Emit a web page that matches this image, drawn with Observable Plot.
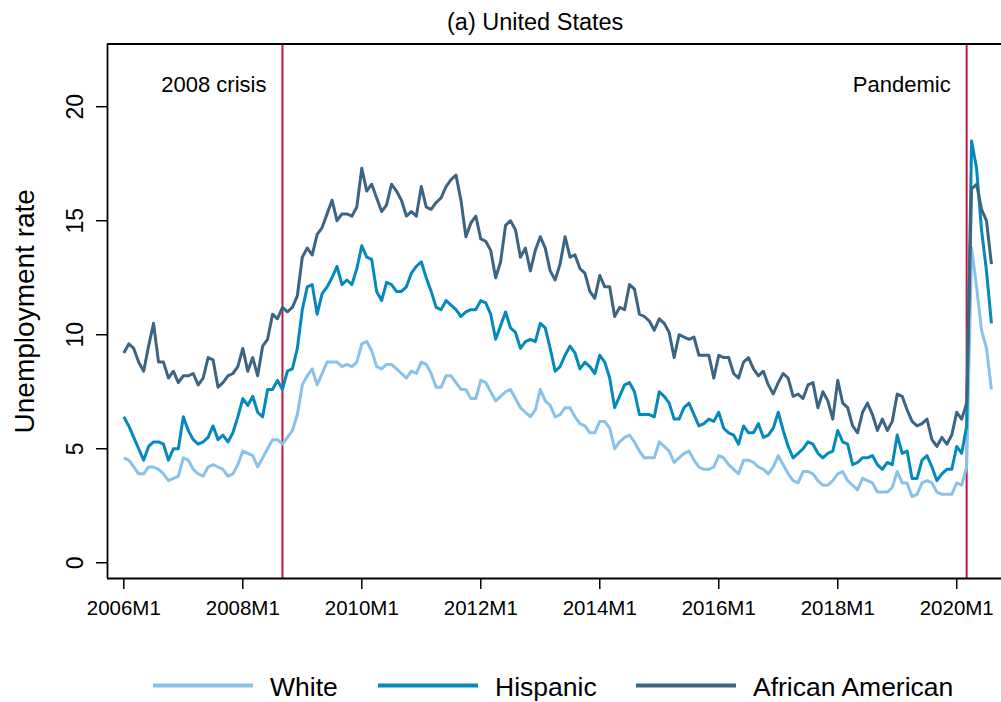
<!DOCTYPE html>
<html><head><meta charset="utf-8">
<script src="https://cdn.jsdelivr.net/npm/d3@7"></script>
<script src="https://cdn.jsdelivr.net/npm/@observablehq/plot@0.6"></script>
<style>
body{margin:0;background:#fff;font-family:"Liberation Sans",Arial,sans-serif;}
#wrap{position:relative;width:1001px;height:702px;overflow:hidden;background:#fff;}
#chart{position:absolute;left:0;top:0;}
#overlay{position:absolute;left:0;top:0;pointer-events:none;}
</style></head><body>
<div id="wrap"><div id="chart"></div><svg id="overlay" width="1001" height="702"></svg></div>
<script>
// ---- data (monthly, starting 2006M1) ----
const startYear = 2006;
const white = [
4.6,4.5,4.2,3.9,3.9,4.2,4.2,4.1,3.9,3.6,3.7,3.8,
4.6,4.5,4.1,3.9,3.8,4.2,4.3,4.2,4.1,3.8,3.9,4.3,
4.9,4.8,4.7,4.2,4.6,5.0,5.4,5.4,5.2,5.5,5.8,6.5,
7.8,8.2,8.5,7.8,8.3,8.8,8.8,8.8,8.6,8.7,8.6,8.8,
9.6,9.7,9.3,8.6,8.5,8.7,8.7,8.5,8.3,8.1,8.4,8.3,
8.8,8.7,8.3,7.7,7.7,8.2,8.2,7.9,7.6,7.6,7.2,7.2,
8.0,7.9,7.5,7.1,7.3,7.5,7.6,7.2,6.8,6.6,6.4,6.7,
7.6,7.1,6.9,6.4,6.5,6.8,6.8,6.4,6.1,6.0,5.7,5.7,
6.2,6.2,5.9,5.0,5.3,5.5,5.6,5.3,4.9,4.6,4.6,4.6,
5.3,5.1,4.9,4.4,4.6,4.8,4.9,4.5,4.2,4.1,4.1,4.2,
4.7,4.6,4.3,4.1,3.9,4.5,4.5,4.4,4.2,4.1,3.9,4.2,
4.7,4.3,3.9,3.6,3.5,4.0,4.0,3.9,3.6,3.4,3.4,3.6,
3.9,4.0,3.6,3.4,3.2,3.7,3.6,3.5,3.1,3.1,3.1,3.3,
4.0,3.5,3.5,2.9,3.0,3.5,3.6,3.5,3.1,3.0,3.0,3.0,
3.5,3.4,4.2,13.8,12.1,10.2,9.4,7.6];
const hispanic = [
6.4,6.0,5.5,5.0,4.5,5.1,5.3,5.3,5.2,4.5,5.0,5.0,
6.4,5.8,5.4,5.2,5.3,5.5,6.0,5.4,5.6,5.3,5.7,6.4,
7.2,6.9,7.3,6.6,6.4,7.6,7.6,8.0,7.6,8.4,8.5,9.4,
11.1,12.1,12.2,10.9,11.8,12.1,12.5,13.0,12.2,12.4,12.2,12.9,
13.9,13.4,13.3,11.9,11.5,12.3,12.2,11.9,11.9,12.1,12.7,13.0,
13.2,12.5,11.9,11.2,11.1,11.5,11.3,11.1,10.8,11.0,11.1,11.1,
11.5,11.4,10.9,9.8,10.4,11.0,10.3,10.1,9.4,9.7,9.8,9.7,
10.5,10.3,9.4,8.4,8.6,9.1,9.5,9.2,8.5,8.8,8.6,8.3,
9.1,8.8,8.1,6.8,7.3,7.8,7.9,7.5,6.5,6.5,6.5,6.4,
7.5,7.3,7.0,6.3,6.3,6.8,7.0,6.5,6.0,6.1,6.3,6.2,
6.6,5.9,5.7,5.6,5.2,6.0,5.7,5.7,6.1,5.5,5.6,5.9,
6.6,5.8,5.1,4.6,4.8,5.0,5.3,5.2,4.8,4.6,4.8,4.9,
5.8,5.3,5.2,4.3,4.4,4.6,4.6,4.7,4.3,4.1,4.4,4.3,
5.6,4.8,4.9,3.7,3.7,4.5,4.7,4.2,3.6,3.9,4.1,4.1,
5.1,4.8,6.0,18.5,17.3,14.6,12.8,10.5];
const africanAmerican = [
9.2,9.6,9.4,8.8,8.4,9.5,10.5,8.8,8.8,8.1,8.4,7.9,
8.2,8.2,8.3,7.8,8.1,9.0,8.9,7.7,7.9,8.2,8.3,8.6,
9.4,8.4,9.0,8.2,9.5,9.8,10.9,10.7,11.2,11.0,11.2,11.7,
13.4,13.8,13.5,14.4,14.7,15.3,15.9,15.0,15.3,15.3,15.2,15.6,
17.3,16.3,16.6,16.0,15.4,15.7,16.6,16.3,15.9,15.2,15.4,15.2,
16.5,15.6,15.5,15.8,16.0,16.5,16.8,17.0,15.9,14.3,14.9,15.2,
14.2,14.1,13.7,12.5,13.2,14.8,15.0,14.6,13.4,13.8,12.8,13.7,
14.3,13.8,12.8,12.4,13.1,14.3,13.4,13.5,12.9,12.7,11.9,11.6,
12.6,12.1,12.1,10.8,11.2,11.1,12.2,12.0,10.9,10.8,10.6,10.2,
10.7,10.5,10.1,9.0,10.0,9.9,9.8,9.9,9.1,9.1,9.1,8.1,
9.1,9.0,9.0,8.3,8.1,8.8,9.0,8.5,8.2,8.4,7.8,7.4,
7.9,8.3,8.1,7.3,7.4,7.2,7.8,7.9,6.8,7.5,7.1,6.3,
8.0,7.0,6.8,6.0,5.7,6.6,7.0,6.5,5.8,6.3,5.8,6.2,
7.4,7.3,6.7,6.2,6.0,6.1,6.3,5.4,5.1,5.5,5.2,5.6,
6.6,6.3,7.0,16.4,16.6,15.5,15.0,13.1];
const seriesNames = ["White", "Hispanic", "African American"];
const seriesValues = [white, hispanic, africanAmerican];
const seriesColors = ["#88c2ea", "#0589bd", "#3c6584"];
const xTickLabels = ["2006M1","2008M1","2010M1","2012M1","2014M1","2016M1","2018M1","2020M1"];
const yTicks = [0, 5, 10, 15, 20];
const eventLabels = ["2008 crisis", "Pandemic"];
const eventDates = ["2008M9", "2020M3"];

// ---- helpers ----
const monthIndex = s => { const [y, m] = s.split("M").map(Number); return (y - startYear) * 12 + (m - 1); };
const rows = [];
seriesNames.forEach((name, k) => seriesValues[k].forEach((v, i) => rows.push({m: i, v, s: name})));
const xTicks = xTickLabels.map(monthIndex);
const events = eventDates.map((d, i) => ({m: monthIndex(d), label: eventLabels[i]}));
const xDomain = [-3.29, 177.03];
const yDomain = [-0.69, 22.75];
const FONT = "'Liberation Sans', Arial, sans-serif";

const chart = Plot.plot({
  width: 1001, height: 640,
  marginLeft: 107, marginRight: 0, marginTop: 43.5, marginBottom: 62,
  x: {type: "linear", domain: xDomain},
  y: {domain: yDomain},
  color: {domain: seriesNames, range: seriesColors},
  style: {fontFamily: FONT, color: "#000", background: "#fff", overflow: "visible"},
  marks: [
    Plot.ruleX(events, {x: "m", stroke: "#c8143c", strokeWidth: 2}),
    Plot.line(rows, {x: "m", y: "v", z: "s", stroke: "s", strokeWidth: 3, strokeLinejoin: "round", strokeLinecap: "butt"}),
    Plot.text(events, {x: "m", text: "label", frameAnchor: "top", dy: 40.8, dx: -16, textAnchor: "end", lineAnchor: "middle", fontSize: 22, fill: "#000"}),
    Plot.axisX({ticks: xTicks, tickFormat: d => xTickLabels[xTicks.indexOf(d)], tickSize: 11, tickPadding: 11, fontSize: 20.5, label: null, stroke: "#000", strokeWidth: 1.5}),
    Plot.axisY({ticks: yTicks, tickFormat: () => "", tickSize: 11, label: null, stroke: "#000", strokeWidth: 1.5}),
    Plot.text(yTicks, {y: d => d, text: d => String(d), frameAnchor: "left", dx: -32, rotate: -90, textAnchor: "middle", lineAnchor: "middle", fontSize: 23, fill: "#000"}),
    Plot.text(["Unemployment rate"], {frameAnchor: "left", dx: -82, rotate: -90, textAnchor: "middle", lineAnchor: "middle", fontSize: 28, fill: "#000"}),
    Plot.ruleX([xDomain[0]], {stroke: "#000", strokeWidth: 1.8}),
    Plot.ruleY(yDomain, {stroke: "#000", strokeWidth: 1.8})
  ]
});
document.getElementById("chart").appendChild(chart);

// ---- title and legend ----
const ov = d3.select("#overlay");
ov.append("text").attr("x", 447).attr("y", 30).attr("text-anchor", "start")
  .attr("font-family", FONT).attr("font-size", 23.5).attr("fill", "#000").text("(a) United States");
const keyX = [153, 378, 636];
seriesNames.forEach((name, k) => {
  ov.append("line").attr("x1", keyX[k]).attr("x2", keyX[k] + 100).attr("y1", 685.5).attr("y2", 685.5)
    .attr("stroke", seriesColors[k]).attr("stroke-width", 4);
  ov.append("text").attr("x", keyX[k] + 117).attr("y", 696).attr("font-family", FONT)
    .attr("font-size", 26.5).attr("fill", "#000").text(name);
});
</script>
</body></html>
